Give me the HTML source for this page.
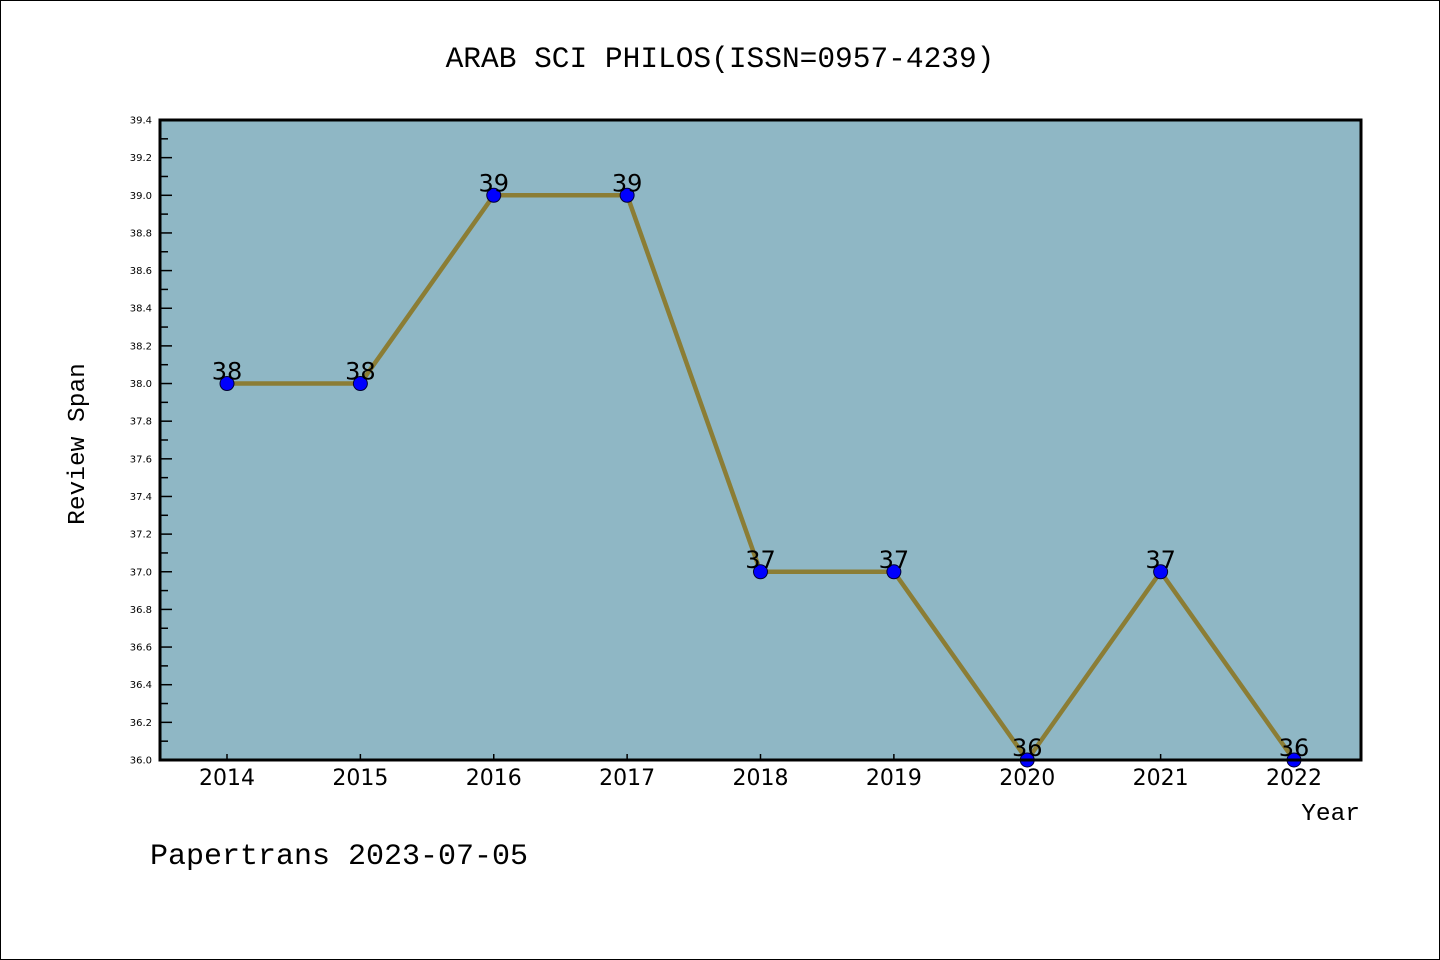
<!DOCTYPE html>
<html><head><meta charset="utf-8"><style>
body{margin:0;background:#fff}
svg{display:block}
</style></head><body>
<svg width="1440" height="960" xmlns="http://www.w3.org/2000/svg" id="svg">
<rect x="0.5" y="0.5" width="1439" height="959" fill="#fff" stroke="#000" stroke-width="1"/>
<text x="720" y="67" text-anchor="middle" font-family="Liberation Mono, monospace" font-size="29.5">ARAB SCI PHILOS(ISSN=0957-4239)</text>
<rect x="160" y="120" width="1201" height="640" fill="#8fb7c5"/>
<g id="grid"></g>
<g id="series"></g>
<rect x="160" y="120" width="1201" height="640" fill="none" stroke="#000" stroke-width="3"/>
<text transform="translate(84,444) rotate(-90)" text-anchor="middle" font-family="Liberation Mono, monospace" font-size="24.5">Review Span</text>
<text x="1360" y="820" text-anchor="end" font-family="Liberation Mono, monospace" font-size="24.5">Year</text>
<text x="150" y="864" font-family="Liberation Mono, monospace" font-size="30">Papertrans 2023-07-05</text>
</svg>
<script>
const years = [2014,2015,2016,2017,2018,2019,2020,2021,2022];
const values = [38,38,39,39,37,37,36,37,36];
const yTicks = [36.0,36.2,36.4,36.6,36.8,37.0,37.2,37.4,37.6,37.8,38.0,38.2,38.4,38.6,38.8,39.0,39.2,39.4];
const NS='http://www.w3.org/2000/svg';
const L=160,R=1361,T=120,B=760,yMin=36,yMax=39.4;
const x0=227,x1=1294;
function xs(i){return x0+(x1-x0)*i/(years.length-1);}
function ys(v){return B-(v-yMin)/(yMax-yMin)*(B-T);}
function mk(tag,attrs,parent){const e=document.createElementNS(NS,tag);for(const k in attrs)e.setAttribute(k,attrs[k]);parent.appendChild(e);return e;}
const g=document.getElementById('grid'),s=document.getElementById('series');
yTicks.forEach(v=>{
  const y=ys(v);
  const t=mk('line',{x1:L,x2:L+12,y1:y,y2:y,stroke:'#000','stroke-width':1.5},g);
  
  
  const lb=mk('text',{x:L-8,y:y+3.5,'text-anchor':'end','font-family':'DejaVu Sans, sans-serif','font-size':10},g);
  lb.textContent=v.toFixed(1);
  
  
});
for(let i=0;i<yTicks.length-1;i++){
  const y=ys((yTicks[i]+yTicks[i+1])/2);
  const t=mk('line',{x1:L,x2:L+8,y1:y,y2:y,stroke:'#000','stroke-width':1.5},g);
  
  
}
years.forEach((yr,i)=>{
  const x=xs(i);
  const t=mk('line',{x1:x,x2:x,y1:B,y2:B-6,stroke:'#000','stroke-width':1.5},g);
  
  
  const lb=mk('text',{x:x,y:B+25,'text-anchor':'middle','font-family':'DejaVu Sans, sans-serif','font-size':22},g);
  lb.textContent=yr;
  
  
});
const pts=values.map((v,i)=>xs(i)+','+ys(v)).join(' ');
const pl=mk('polyline',{points:pts,fill:'none',stroke:'#8b7d35','stroke-width':4.5,'stroke-linejoin':'round'},s);


values.forEach((v,i)=>{
  const c=mk('circle',{cx:xs(i),cy:ys(v),r:7,fill:'#0000ff',stroke:'#000033','stroke-width':1},s);
  
  
  const lb=mk('text',{x:xs(i),y:ys(v)-4,'text-anchor':'middle','font-family':'DejaVu Sans, sans-serif','font-size':24},s);
  lb.textContent=v;
  
  
});
</script>
</body></html>
